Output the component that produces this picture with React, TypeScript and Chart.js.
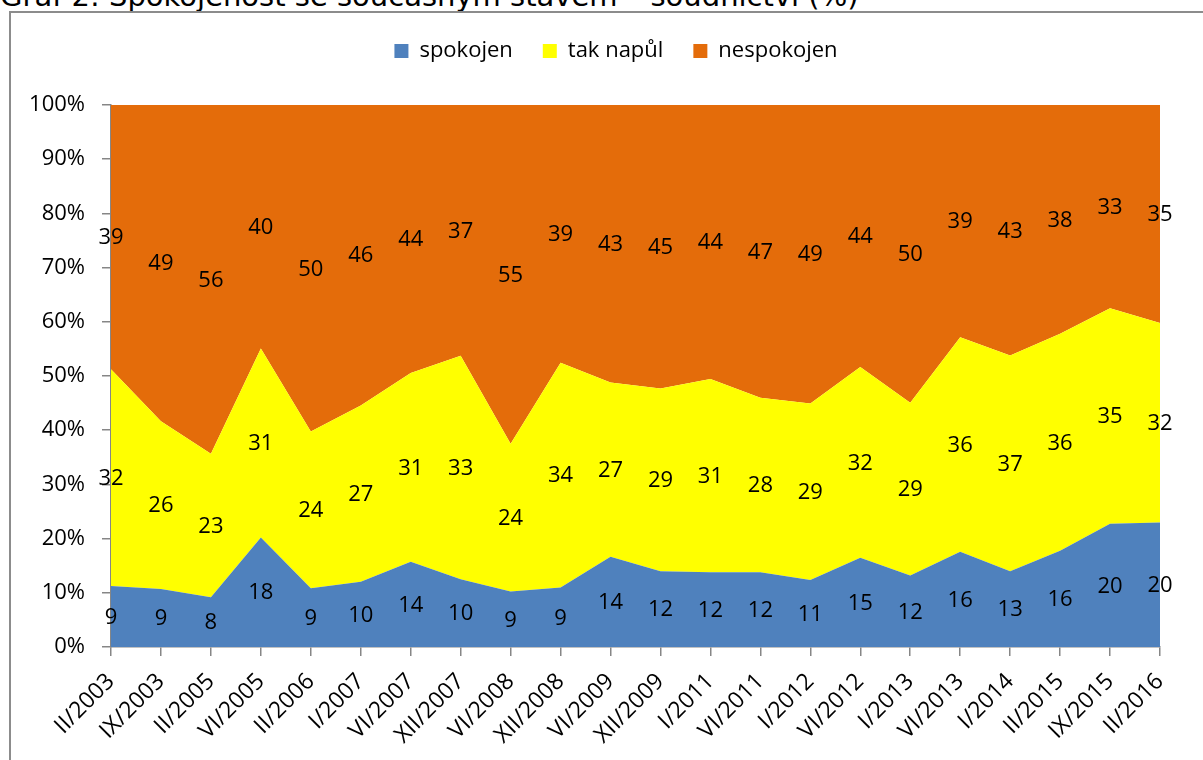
import React, { useEffect, useRef } from 'react';
import { Chart, registerables } from 'chart.js';

Chart.register(...registerables);

const titleText = 'Graf 2: Spokojenost se současným stavem – soudnictví (%)';
const categories = ['II/2003', 'IX/2003', 'II/2005', 'VI/2005', 'II/2006', 'I/2007', 'VI/2007', 'XII/2007', 'VI/2008', 'XII/2008', 'VI/2009', 'XII/2009', 'I/2011', 'VI/2011', 'I/2012', 'VI/2012', 'I/2013', 'VI/2013', 'I/2014', 'II/2015', 'IX/2015', 'II/2016'];
const spokojen = [9, 9, 8, 18, 9, 10, 14, 10, 9, 9, 14, 12, 12, 12, 11, 15, 12, 16, 13, 16, 20, 20];
const takNapul = [32, 26, 23, 31, 24, 27, 31, 33, 24, 34, 27, 29, 31, 28, 29, 32, 29, 36, 37, 36, 35, 32];
const nespokojen = [39, 49, 56, 40, 50, 46, 44, 37, 55, 39, 43, 45, 44, 47, 49, 44, 50, 39, 43, 38, 33, 35];
const seriesNames = ['spokojen', 'tak napůl', 'nespokojen'];
const seriesColors = ['#4F81BD', '#FFFF00', '#E46C0A'];
const yTickMax = 100;
const yTickStep = 10;

const FONT = '"Open Sans", "Noto Sans", sans-serif';
const FONT_SIZE = 22;

const bandLabels = {
  id: 'bandLabels',
  afterDatasetsDraw(chart: any) {
    const { ctx } = chart;
    const x = chart.scales.x;
    const y = chart.scales.y;
    ctx.save();
    ctx.font = `${FONT_SIZE}px ${FONT}`;
    ctx.fillStyle = '#000';
    ctx.textAlign = 'center';
    ctx.textBaseline = 'middle';
    const dss = chart.data.datasets;
    dss.forEach((ds: any, i: number) => {
      ds.data.forEach((v: number, j: number) => {
        let below = 0;
        for (let k = 0; k < i; k++) below += dss[k].data[j];
        const mid = below + v / 2;
        ctx.fillText(String(ds.rawValues[j]), x.getPixelForValue(j), y.getPixelForValue(mid) + 1);
      });
    });
    ctx.restore();
  },
};

const legendSpacer = {
  id: 'legendSpacer',
  beforeInit(chart: any) {
    const legend = chart.legend;
    if (!legend) return;
    const origFit = legend.fit;
    legend.fit = function () {
      origFit.call(this);
      this.height = 95;
    };
  },
  afterLayout(chart: any) {
    const legend = chart.legend;
    if (!legend) return;
    legend.left = 9;
    legend.right = 1223;
    legend.width = legend.right - legend.left;
  },
};

export default function App() {
  const ref = useRef<HTMLCanvasElement | null>(null);

  useEffect(() => {
    if (!ref.current) return;
    const raw = [spokojen, takNapul, nespokojen];
    const totals = categories.map((_, j) => raw.reduce((s, arr) => s + arr[j], 0));
    const datasets = raw.map((arr, i) => ({
      label: seriesNames[i],
      data: arr.map((v, j) => (v / totals[j]) * 100),
      rawValues: arr,
      backgroundColor: seriesColors[i],
      borderColor: seriesColors[i],
      borderWidth: 0,
      pointRadius: 0,
      pointHoverRadius: 0,
      tension: 0,
      fill: i === 0 ? 'origin' : '-1',
    }));

    const chart = new Chart(ref.current, {
      type: 'line',
      data: { labels: categories, datasets: datasets as any },
      options: {
        animation: false,
        responsive: false,
        events: [],
        layout: { padding: { top: 10, left: 0, right: 43, bottom: 0 } },
        plugins: {
          title: { display: false },
          tooltip: { enabled: false },
          legend: {
            display: true,
            position: 'top',
            labels: {
              boxWidth: 14,
              boxHeight: 14,
              padding: 30,
              color: '#000',
              font: { family: FONT, size: FONT_SIZE },
            },
          },
        },
        scales: {
          x: {
            offset: false,
            grid: { display: true, drawOnChartArea: false, drawTicks: true, tickLength: 9, color: '#868686', lineWidth: 1.5 },
            border: { display: true, color: '#868686', width: 1.5 },
            ticks: {
              autoSkip: false,
              minRotation: 45,
              maxRotation: 45,
              padding: 12,
              color: '#000',
              font: { family: FONT, size: 23 },
            },
            afterFit(scale: any) {
              scale.height = 113;
            },
          },
          y: {
            stacked: true,
            min: 0,
            max: yTickMax,
            grid: { display: true, drawOnChartArea: false, drawTicks: true, tickLength: 9, color: '#868686', lineWidth: 1.5 },
            border: { display: true, color: '#868686', width: 1.5 },
            ticks: {
              stepSize: yTickStep,
              padding: 17,
              color: '#000',
              font: { family: FONT, size: FONT_SIZE },
              callback: (v: any) => `${v}%`,
            },
            afterFit(scale: any) {
              scale.width = 111;
            },
          },
        },
      },
      plugins: [legendSpacer, bandLabels],
    });
    return () => chart.destroy();
  }, []);

  return (
    <div style={{ position: 'fixed', left: 0, top: 0, width: 1203, height: 760, overflow: 'hidden', background: '#fff' }}>
      <div
        style={{
          position: 'absolute',
          left: 0,
          top: -18,
          fontFamily: '"DejaVu Sans", Verdana, sans-serif',
          fontSize: 29,
          lineHeight: '29px',
          whiteSpace: 'nowrap',
          color: '#000',
        }}
      >
        {titleText}
      </div>
      <div
        style={{
          position: 'absolute',
          left: 9,
          top: 11,
          width: 1260,
          height: 820,
          border: '2px solid #8c8c8c',
          boxSizing: 'border-box',
        }}
      />
      <canvas ref={ref} width={1203} height={760} style={{ position: 'absolute', left: 0, top: 0, width: 1203, height: 760 }} />
    </div>
  );
}
